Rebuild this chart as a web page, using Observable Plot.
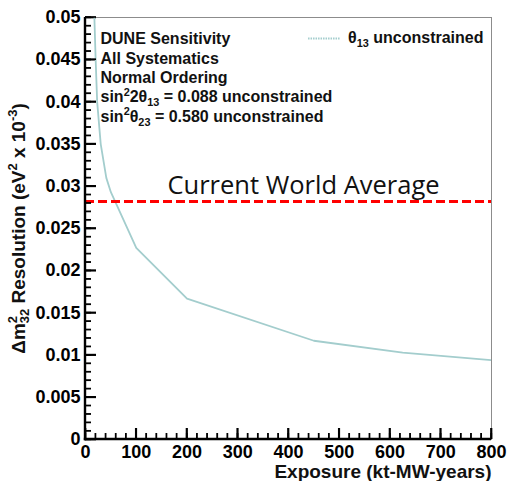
<!DOCTYPE html>
<html><head><meta charset="utf-8">
<script src="https://cdn.jsdelivr.net/npm/d3@7"></script>
<script src="https://cdn.jsdelivr.net/npm/@observablehq/plot@0.6"></script>
<style>
html,body{margin:0;padding:0;background:#fff;}
#chart svg{display:block;}
</style></head><body><div id="chart"></div>
<script>
// ---- data ----
const exposure   = [17.5, 20, 23, 30, 41, 50, 100, 200, 450, 625, 800];
const resolution = [0.050, 0.045, 0.040, 0.035, 0.031, 0.0293, 0.0227, 0.0167, 0.0117, 0.0103, 0.0094];
const worldAverage = [0.0282];
const worldAverageLabel = "Current World Average";
const xTicks = [0, 100, 200, 300, 400, 500, 600, 700, 800];
const yTicks = [0, 0.005, 0.01, 0.015, 0.02, 0.025, 0.03, 0.035, 0.04, 0.045, 0.05];
const xMinorTicks = d3.range(0, 801, 20);
const yMinorTicks = d3.range(0, 51).map(i => i / 1000);
const annotationLines = [
  "DUNE Sensitivity",
  "All Systematics",
  "Normal Ordering",
  "sin^{2}2θ_{13} = 0.088 unconstrained",
  "sin^{2}θ_{23} = 0.580 unconstrained"
];
const legendLabel = "θ_{13} unconstrained";
const xLabel = "Exposure (kt-MW-years)";
const yLabel = "Δm^{2}_{32} Resolution (eV^{2} x 10^{-3})";

// ---- layout ----
const W = 508, H = 481, mL = 85, mR = 17, mT = 17, mB = 42;
const innerW = W - mL - mR, innerH = H - mT - mB;
const curveColor = "#a3cdcd";
const plain = s => s.replace(/[\^_]\{([^}]*)\}/g, "$1");
const series = exposure.map((x, i) => ({x, y: resolution[i]}));
const helv = "'Liberation Sans', Arial, Helvetica, sans-serif";

const marks = [
  Plot.frame({stroke: "#8c8c8c", strokeWidth: 1}),
  Plot.ruleY(yMinorTicks, {insetRight: innerW - 6, stroke: "black", strokeWidth: 1.3}),
  Plot.ruleY(yTicks, {insetRight: innerW - 11, stroke: "black", strokeWidth: 1.7}),
  Plot.ruleX(xMinorTicks, {insetTop: innerH - 6, stroke: "black", strokeWidth: 1.3}),
  Plot.ruleX(xTicks, {insetTop: innerH - 11, stroke: "black", strokeWidth: 1.7}),
  Plot.axisY({ticks: yTicks, tickSize: 0, tickPadding: 5, tickFormat: d => String(d), fontSize: 18, fontWeight: "bold", label: null}),
  Plot.axisX({ticks: xTicks, tickSize: 0, tickPadding: 6, tickFormat: d => String(d), fontSize: 18, fontWeight: "bold", label: null}),
  Plot.line(series, {x: "x", y: "y", stroke: curveColor, strokeWidth: 1.8, clip: true}),
  Plot.ruleY(worldAverage, {stroke: "#ff0000", strokeWidth: 3, strokeDasharray: "9,4"}),
  Plot.text(worldAverage, {y: d => d, text: () => worldAverageLabel, frameAnchor: "left", dx: 82, dy: -16,
    textAnchor: "start", fontFamily: "'Open Sans', 'Noto Sans', sans-serif", fontSize: 25.5, fill: "#111"}),
  ...annotationLines.map((line, i) => Plot.text([line], {text: d => plain(d), frameAnchor: "top-left",
    dx: 15, dy: 15.6 + i * 19.3, textAnchor: "start", fontSize: 16, fontWeight: "bold", fill: "#111"})),
  Plot.text([legendLabel], {text: d => plain(d), frameAnchor: "top-right", dx: -8, dy: 14.6,
    textAnchor: "end", fontSize: 16, fontWeight: "bold", fill: "#111"}),
  Plot.text([xLabel], {text: d => d, frameAnchor: "bottom-right", dx: 0, dy: 38,
    textAnchor: "end", fontSize: 19, fontWeight: "bold", fill: "#111"}),
  Plot.text([yLabel], {text: d => plain(d), frameAnchor: "left", dx: -67, rotate: -90,
    textAnchor: "middle", fontSize: 19, fontWeight: "bold", fill: "#111"})
];

const chart = Plot.plot({
  width: W, height: H, marginLeft: mL, marginRight: mR, marginTop: mT, marginBottom: mB,
  x: {domain: [0, 800]},
  y: {domain: [0, 0.05]},
  style: {fontFamily: helv, background: "#fff"},
  marks
});
document.getElementById("chart").appendChild(chart);

// ---- rich text (super/subscripts) ----
function richify(el, markup) {
  const fs = parseFloat(getComputedStyle(el).fontSize);
  const sel = d3.select(el);
  while (el.firstChild) el.removeChild(el.firstChild);
  const tokens = markup.split(/([\^_]\{[^}]*\})/).filter(t => t);
  let offset = 0, prevSup = null;
  for (const tok of tokens) {
    if (tok.startsWith("^{")) {
      const t = sel.append("tspan").attr("font-size", fs * 0.68).attr("dy", -0.42 * fs - offset).text(tok.slice(2, -1));
      offset = -0.42 * fs; prevSup = t;
    } else if (tok.startsWith("_{")) {
      const t = sel.append("tspan").attr("font-size", fs * 0.68).attr("dy", 0.25 * fs - offset).text(tok.slice(2, -1));
      if (prevSup) t.attr("dx", -prevSup.node().getComputedTextLength());
      offset = 0.25 * fs; prevSup = null;
    } else {
      sel.append("tspan").attr("dy", -offset).text(tok);
      offset = 0; prevSup = null;
    }
  }
}
const richMap = new Map([...annotationLines, legendLabel, yLabel].filter(s => s !== plain(s)).map(s => [plain(s), s]));
let legendEl = null;
chart.querySelectorAll("text").forEach(el => {
  const txt = el.textContent;
  if (txt === plain(legendLabel)) legendEl = el;
  if (richMap.has(txt)) richify(el, richMap.get(txt));
});

// ---- inward ROOT-style ticks and thick axes, placed with Plot's own scales, drawn last ----
const sx = chart.scale("x"), sy = chart.scale("y");
const x0px = sx.apply(0), y0px = sy.apply(0);
const tg = d3.select(chart).append("g").attr("stroke", "#000").attr("fill", "none");
const addLines = (vals, f, w) => vals.forEach(v => {
  const [x1, y1, x2, y2] = f(v);
  tg.append("line").attr("x1", x1).attr("y1", y1).attr("x2", x2).attr("y2", y2).attr("stroke-width", w);
});
addLines(yMinorTicks, v => [x0px, sy.apply(v), x0px + 6, sy.apply(v)], 1.2);
addLines(yTicks, v => [x0px, sy.apply(v), x0px + 11, sy.apply(v)], 1.6);
addLines(xMinorTicks, v => [sx.apply(v), y0px, sx.apply(v), y0px - 6], 1.2);
addLines(xTicks, v => [sx.apply(v), y0px, sx.apply(v), y0px - 11], 1.6);
tg.append("line").attr("x1", x0px).attr("x2", x0px).attr("y1", sy.apply(0.05)).attr("y2", y0px + 1.2).attr("stroke-width", 2.4);
tg.append("line").attr("x1", x0px - 1.2).attr("x2", sx.apply(800)).attr("y1", y0px).attr("y2", y0px).attr("stroke-width", 2.4);

// ---- legend swatch ----
if (legendEl) {
  const r = legendEl.getBoundingClientRect(), s = chart.getBoundingClientRect();
  const x0 = r.left - s.left;
  const yMid = (r.top - s.top) + 0.45 * r.height;
  d3.select(chart).append("line")
    .attr("x1", x0 - 40).attr("x2", x0 - 8)
    .attr("y1", yMid).attr("y2", yMid)
    .attr("stroke", curveColor).attr("stroke-width", 2).attr("stroke-dasharray", "1.5,1");
}
</script>
</body></html>
